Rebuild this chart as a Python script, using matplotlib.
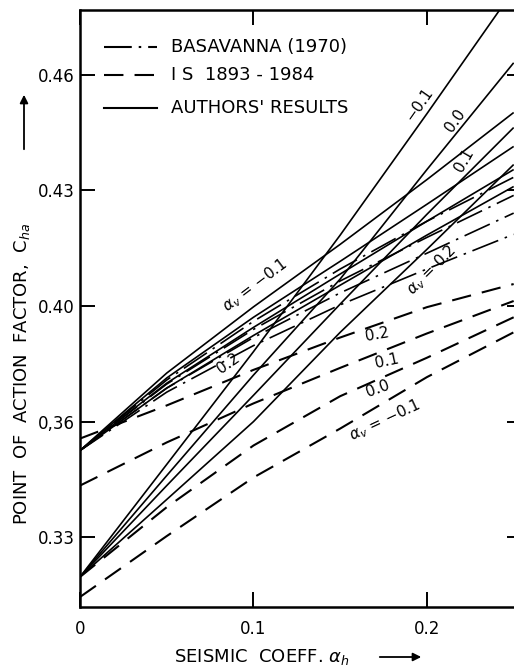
import numpy as np
import matplotlib
matplotlib.use("Agg")
import matplotlib.pyplot as plt

plt.rcParams['font.family'] = ['DejaVu Sans']
plt.rcParams['lines.scale_dashes'] = False

# ---------------- data ----------------
alpha_h = [0.0, 0.05, 0.10, 0.15, 0.20, 0.25]

# Authors' results (solid) - steep family
auth_steep_m01 = [0.3197, 0.3489, 0.3842, 0.4184, 0.4499, 0.4820]
auth_steep_00 = [0.3197, 0.3460, 0.3761, 0.4070, 0.4354, 0.4631]
auth_steep_01 = [0.3197, 0.3434, 0.3691, 0.4005, 0.4238, 0.4463]
auth_steep_02 = [0.3197, 0.3398, 0.3600, 0.3909, 0.4147, 0.4367]

# Authors' results (solid) - flat family
auth_flat_a = [0.3525, 0.3768, 0.3997, 0.4160, 0.4328, 0.4502]
auth_flat_b = [0.3525, 0.3751, 0.3961, 0.4116, 0.4264, 0.4414]
auth_flat_c = [0.3525, 0.3733, 0.3926, 0.4083, 0.4220, 0.4354]
auth_flat_d = [0.3525, 0.3716, 0.3898, 0.4054, 0.4184, 0.4310]

# Basavanna (1970) (dash-dot)
bas_m01 = [0.3525, 0.3744, 0.3947, 0.4096, 0.4220, 0.4334]
bas_00 = [0.3525, 0.3730, 0.3919, 0.4065, 0.4178, 0.4287]
bas_01 = [0.3525, 0.3716, 0.3891, 0.4034, 0.4137, 0.4241]
bas_02 = [0.3525, 0.3702, 0.3863, 0.4003, 0.4096, 0.4186]

# IS 1893-1984 (dashed)
is_02 = [0.3556, 0.3656, 0.3779, 0.3891, 0.3996, 0.4057]
is_01 = [0.3434, 0.3546, 0.3663, 0.3786, 0.3905, 0.4013]
is_00 = [0.3197, 0.3378, 0.3538, 0.3688, 0.3821, 0.3961]
is_m01 = [0.3145, 0.3303, 0.3455, 0.3582, 0.3754, 0.3909]

y_ticks = [0.33, 0.36, 0.40, 0.43, 0.46]
y_ticklabels = ['0.33', '0,36', '0.40', '0.43', '0.46']
x_ticks = [0.0, 0.1, 0.2]
x_ticklabels = ['0', '0.1', '0.2']

# ---------------- figure ----------------
W, H = 514, 671
fig = plt.figure(figsize=(W / 100, H / 100), dpi=100)

def fx(px):
    return px / W

def fy(py):
    return 1 - py / H

ax = fig.add_axes([fx(80), fy(607), fx(522) - fx(80), fy(10) - fy(607)])

# piecewise-linear vertical scale (tick marks equally spaced in the original)
kv = np.array([0.27, 0.33, 0.36, 0.40, 0.43, 0.46, 0.52])
ku = np.array([-2.0, 0.0, 1.0, 2.0, 3.0, 4.0, 6.0])

def fwd(v):
    return np.interp(v, kv, ku)

def inv(u):
    return np.interp(u, ku, kv)

ax.set_yscale('function', functions=(fwd, inv))

lw = 1.2
col = 'black'
DASH = (0, (14, 8))
DASHDOT = (0, (20, 5, 1.8, 5))

for s in [auth_steep_m01, auth_steep_00, auth_steep_01, auth_steep_02,
          auth_flat_a, auth_flat_b, auth_flat_c, auth_flat_d]:
    ax.plot(alpha_h, s, color=col, lw=lw, ls='-', solid_capstyle='butt')
for s in [bas_m01, bas_00, bas_01, bas_02]:
    ax.plot(alpha_h, s, color=col, lw=lw, ls=DASHDOT)
for s in [is_02, is_01, is_00, is_m01]:
    ax.plot(alpha_h, s, color=col, lw=lw + 0.3, ls=DASH)

ax.set_xlim(0, 0.2548)
ax.set_ylim(0.3119, 0.4768)
ax.set_xticks(x_ticks)
ax.set_xticklabels(x_ticklabels)
ax.set_yticks(y_ticks)
ax.set_yticklabels(y_ticklabels)
ax.tick_params(direction='in', length=11, width=1.4, top=True, right=True,
               labelsize=12, pad=4)
ax.tick_params(axis='x', pad=9)
for sp in ax.spines.values():
    sp.set_linewidth(1.8)

# legend (manual, inside axes)
leg_items = [('BASAVANNA (1970)', DASHDOT), ('I S  1893 - 1984', DASH), ("AUTHORS' RESULTS", '-')]
leg_y = [47, 75, 108]
for (lab, ls), yy in zip(leg_items, leg_y):
    fig.add_artist(plt.Line2D([fx(104), fx(157)], [fy(yy), fy(yy)], color=col,
                              lw=lw + 0.3, ls=ls, transform=fig.transFigure))
    fig.text(fx(171), fy(yy), lab, fontsize=13, va='center', ha='left')

# curve labels
def lbl(x, y, s, rot, size=11):
    fig.text(fx(x), fy(y), s, fontsize=size, rotation=rot, ha='center',
             va='center', rotation_mode='anchor')

M = '\u2212'
lbl(419, 104, M + '0.1', 55)
lbl(455, 121, '0.0', 55)
lbl(464, 160, '0.1', 60)
lbl(432, 270, r'$\alpha_v$ = 0.2', 45)
lbl(255, 285, r'$\alpha_v$ = ' + M + '0.1', 37)
lbl(228, 363, '0.2', 35)
lbl(377, 334, '0.2', 10)
lbl(387, 361, '0.1', 12)
lbl(378, 389, '0.0', 20)
lbl(385, 420, r'$\alpha_v$ = ' + M + '0.1', 25)

# axis labels
fig.text(fx(22), fy(374), r'POINT  OF  ACTION  FACTOR,  C$_{ha}$', rotation=90,
         fontsize=13, ha='center', va='center')
fig.text(fx(262), fy(657), r'SEISMIC  COEFF. $\alpha_h$', fontsize=13,
         ha='center', va='center')
fig.add_artist(matplotlib.patches.FancyArrowPatch(
    (fx(377), fy(657)), (fx(424), fy(657)), transform=fig.transFigure,
    arrowstyle='-|>', mutation_scale=12, color=col, lw=1.3))
fig.add_artist(matplotlib.patches.FancyArrowPatch(
    (fx(24), fy(152)), (fx(24), fy(92)), transform=fig.transFigure,
    arrowstyle='-|>', mutation_scale=12, color=col, lw=1.3))

fig.savefig('out.png', dpi=100)
